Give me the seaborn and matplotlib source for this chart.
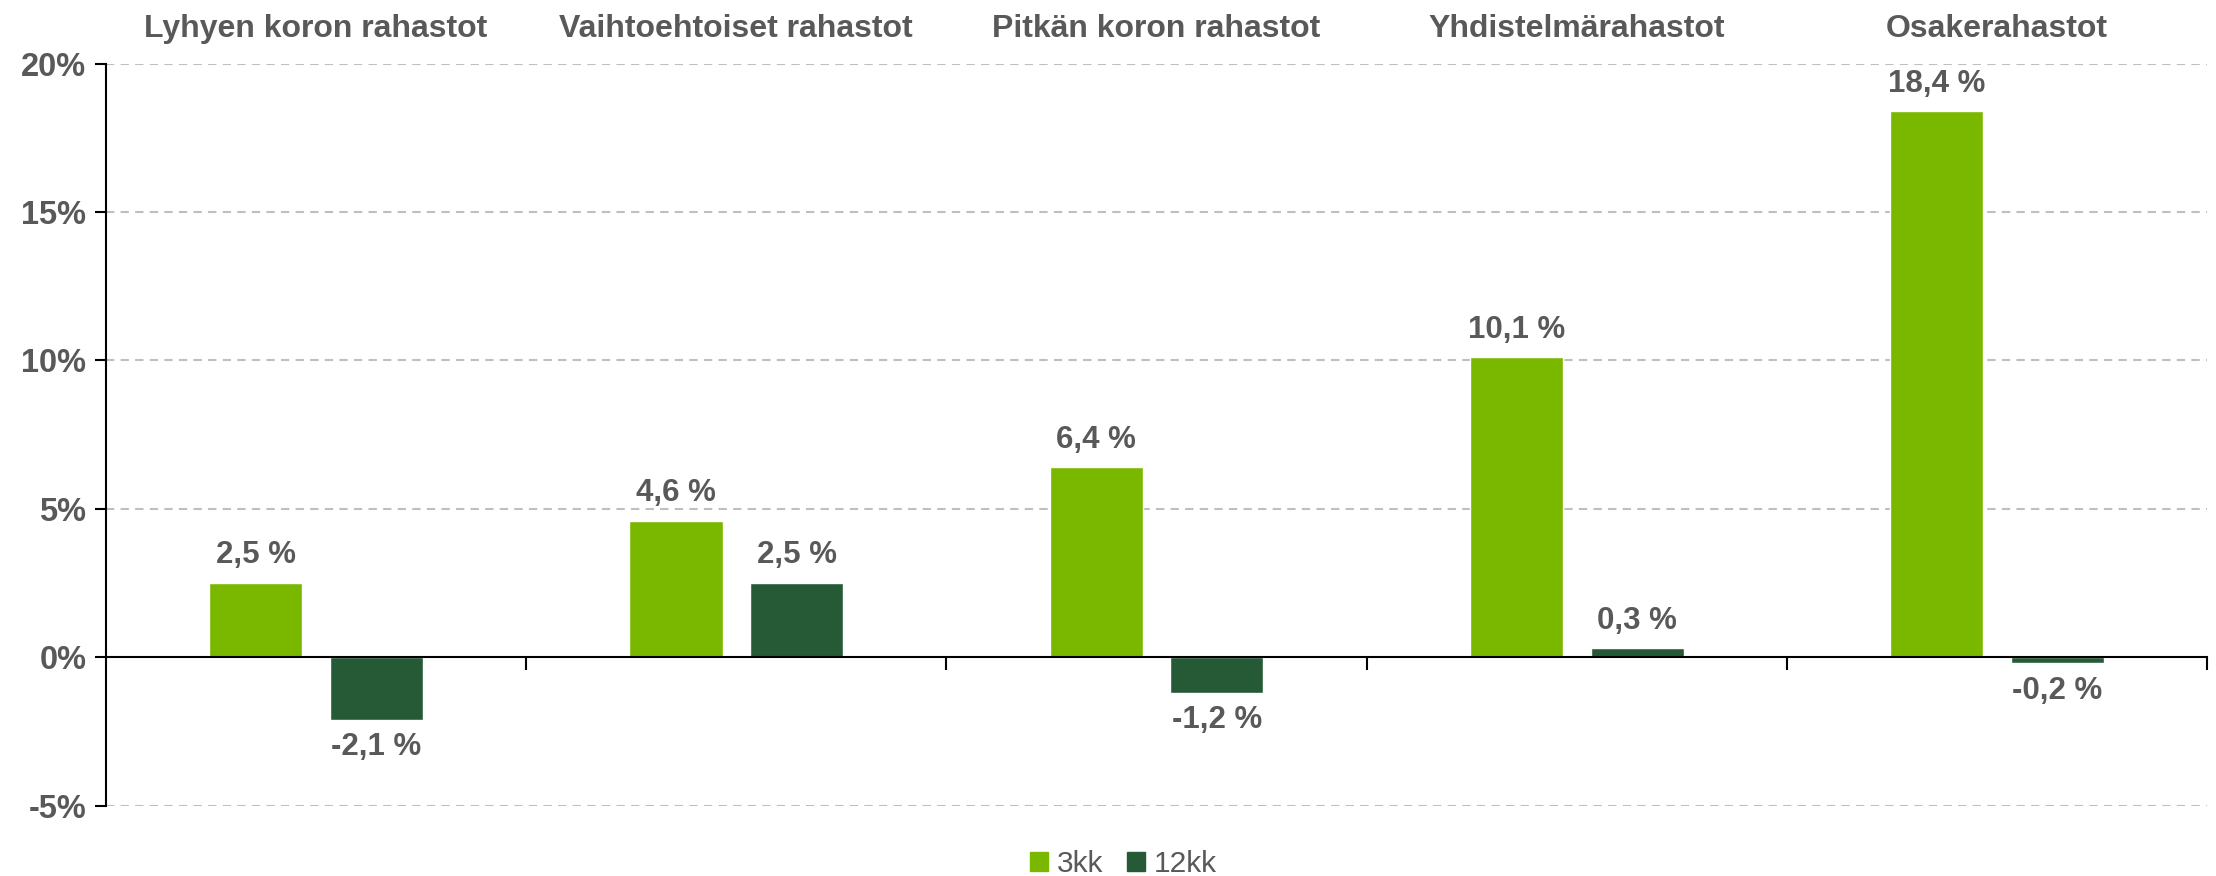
import matplotlib
matplotlib.use("Agg")
import matplotlib.pyplot as plt
import seaborn as sns
import pandas as pd
from matplotlib.ticker import FuncFormatter, FixedLocator

categories = ["Lyhyen koron rahastot", "Vaihtoehtoiset rahastot", "Pitkän koron rahastot",
              "Yhdistelmärahastot", "Osakerahastot"]
series_names = ["3kk", "12kk"]
values_3kk = [2.5, 4.6, 6.4, 10.1, 18.4]
values_12kk = [-2.1, 2.5, -1.2, 0.3, -0.2]
y_ticks = [-5, 0, 5, 10, 15, 20]

colors = ["#7AB800", "#265A36"]
text_color = "#595959"

sns.set_theme(style="white")
plt.rcParams['font.family'] = ['Liberation Sans', 'DejaVu Sans']

df = pd.DataFrame({
    "cat": categories * 2,
    "serie": [series_names[0]] * len(categories) + [series_names[1]] * len(categories),
    "val": values_3kk + values_12kk,
})

fig = plt.figure(figsize=(22.16, 8.76), dpi=100)
ax = fig.add_axes([0.0478, 0.0804, 0.996 - 0.0478, 0.9274 - 0.0804])

sns.barplot(data=df, x="cat", y="val", hue="serie", order=categories, hue_order=series_names,
            palette=colors, width=0.574, gap=0.228, ax=ax, legend=False, saturation=1)

ax.set_xlim(-0.5, len(categories) - 0.5)
ax.set_ylim(-5, 20)
ax.set_xlabel("")
ax.set_ylabel("")

# grid
for t in y_ticks:
    if t != 0:
        ax.axhline(t, color="#BFBFBF", linestyle=(0, (4, 3)), linewidth=1.5, zorder=0)

ax.yaxis.set_major_locator(FixedLocator(y_ticks))
ax.yaxis.set_major_formatter(FuncFormatter(lambda v, p: f"{int(v)}%"))
ax.tick_params(axis="y", which="major", left=True, length=8, width=1.5, color="black",
               labelsize=23.5, labelcolor=text_color, pad=6)
for lab in ax.get_yticklabels():
    lab.set_fontweight("bold")

for s in ["top", "right"]:
    ax.spines[s].set_visible(False)
ax.spines["left"].set_color("black")
ax.spines["left"].set_linewidth(1.5)
ax.spines["bottom"].set_position(("data", 0))
ax.spines["bottom"].set_color("black")
ax.spines["bottom"].set_linewidth(1.5)

ax.set_xticks(range(len(categories)))
ax.set_xticklabels(categories)
ax.set_xticks([i + 0.5 for i in range(len(categories))], minor=True)
ax.tick_params(axis="x", which="major", bottom=False, top=False, labelbottom=False, labeltop=True,
               labelsize=23, labelcolor=text_color, pad=8)
ax.tick_params(axis="x", which="minor", bottom=True, length=9, width=1.5, color="black")
for lab in ax.get_xticklabels():
    lab.set_fontweight("bold")

def fmt(v):
    return f"{v:.1f}".replace(".", ",") + " %"

for cont in ax.containers:
    labels = [fmt(b.get_height()) for b in cont]
    ax.bar_label(cont, labels=labels, padding=9, fontsize=22.5, fontweight="bold", color=text_color)

handles = [plt.Rectangle((0, 0), 1, 1, color=c) for c in colors]
fig.legend(handles, series_names, loc="lower center", bbox_to_anchor=(0.507, -0.033), ncol=2,
           frameon=False, fontsize=21.5, labelcolor=text_color, handlelength=0.6, handleheight=0.6,
           handletextpad=0.3, columnspacing=0.8)

fig.savefig("out.png", dpi=100)
